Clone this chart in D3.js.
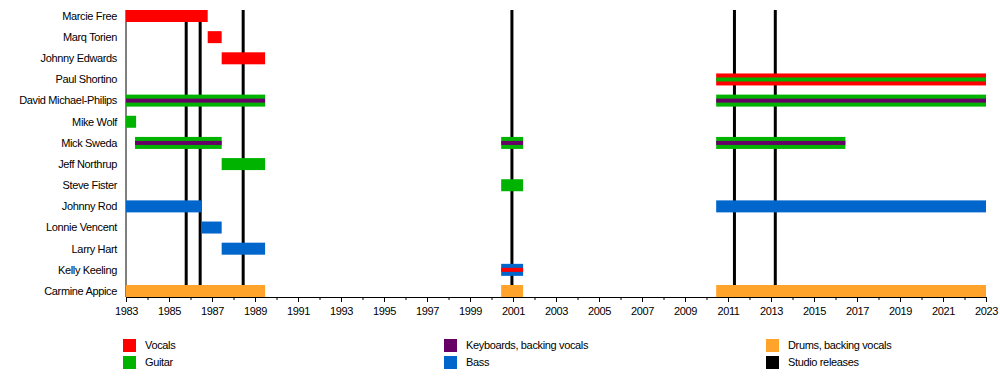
<!DOCTYPE html>
<html>
<head>
<meta charset="utf-8">
<script src="https://cdn.jsdelivr.net/npm/d3@7"></script>
<style>
  body { margin: 0; background: #fff; }
  text { font-family: "Liberation Sans", Arial, sans-serif; font-size: 11px; fill: #000; letter-spacing: -0.35px; }
</style>
</head>
<body>
<div id="chart"></div>
<script>
// band members, top to bottom
var members = ["Marcie Free", "Marq Torien", "Johnny Edwards", "Paul Shortino", "David Michael-Philips",
    "Mike Wolf", "Mick Sweda", "Jeff Northrup", "Steve Fister", "Johnny Rod", "Lonnie Vencent",
    "Larry Hart", "Kelly Keeling", "Carmine Appice"];

var roles = ["Vocals", "Guitar", "Keyboards, backing vocals", "Bass", "Drums, backing vocals", "Studio releases"];

// [member, from, to, main role, second role]
var periods = [
    ["Marcie Free", 1983, 1986.8, "Vocals"],
    ["Marq Torien", 1986.8, 1987.45, "Vocals"],
    ["Johnny Edwards", 1987.45, 1989.47, "Vocals"],
    ["Paul Shortino", 2010.45, 2023, "Vocals", "Guitar"],
    ["David Michael-Philips", 1983, 1989.47, "Guitar", "Keyboards, backing vocals"],
    ["David Michael-Philips", 2010.45, 2023, "Guitar", "Keyboards, backing vocals"],
    ["Mike Wolf", 1983, 1983.47, "Guitar"],
    ["Mick Sweda", 1983.42, 1987.45, "Guitar", "Keyboards, backing vocals"],
    ["Mick Sweda", 2000.45, 2001.47, "Guitar", "Keyboards, backing vocals"],
    ["Mick Sweda", 2010.45, 2016.46, "Guitar", "Keyboards, backing vocals"],
    ["Jeff Northrup", 1987.45, 1989.47, "Guitar"],
    ["Steve Fister", 2000.45, 2001.47, "Guitar"],
    ["Johnny Rod", 1983, 1986.49, "Bass"],
    ["Johnny Rod", 2010.45, 2023, "Bass"],
    ["Lonnie Vencent", 1986.49, 1987.45, "Bass"],
    ["Larry Hart", 1987.45, 1989.47, "Bass"],
    ["Kelly Keeling", 2000.45, 2001.47, "Bass", "Vocals"],
    ["Carmine Appice", 1983, 1989.47, "Drums, backing vocals"],
    ["Carmine Appice", 2000.45, 2001.47, "Drums, backing vocals"],
    ["Carmine Appice", 2010.45, 2023, "Drums, backing vocals"]
];

var releases = [1985.8, 1986.45, 1988.45, 2000.95, 2011.3, 2013.2];

var yearTicks = d3.range(1983, 2024, 1);
var yearLabels = d3.range(1983, 2024, 2);

var roleColor = d3.scaleOrdinal()
    .domain(roles)
    .range(["#ff0000", "#00b300", "#660066", "#0066cc", "#ffa32a", "#000000"]);

var width = 1000, height = 376;
var svg = d3.select("#chart").append("svg")
    .attr("width", width)
    .attr("height", height);

var x = d3.scaleLinear().domain([1983, 2023]).range([126, 986]);
var y = d3.scalePoint().domain(members).range([16, 291]);
var axisY = 297, topY = 10;
var barH = 12, stripeH = 4;

// studio release lines (under the bars)
svg.append("g").selectAll("line")
    .data(releases)
    .enter().append("line")
    .attr("x1", function (d) { return x(d); })
    .attr("x2", function (d) { return x(d); })
    .attr("y1", topY)
    .attr("y2", axisY)
    .attr("stroke", "#000")
    .attr("stroke-width", 3);

// left axis line
svg.append("line")
    .attr("x1", x(1983)).attr("x2", x(1983))
    .attr("y1", topY).attr("y2", axisY)
    .attr("stroke", "#000");

// bars
var bars = svg.append("g").selectAll("g")
    .data(periods)
    .enter().append("g");

bars.append("rect")
    .attr("x", function (d) { return x(d[1]); })
    .attr("width", function (d) { return x(d[2]) - x(d[1]); })
    .attr("y", function (d) { return y(d[0]) - barH / 2; })
    .attr("height", barH)
    .attr("fill", function (d) { return roleColor(d[3]); });

bars.filter(function (d) { return d[4]; })
    .append("rect")
    .attr("x", function (d) { return x(d[1]); })
    .attr("width", function (d) { return x(d[2]) - x(d[1]); })
    .attr("y", function (d) { return y(d[0]) - stripeH / 2; })
    .attr("height", stripeH)
    .attr("fill", function (d) { return roleColor(d[4]); });

// member names
svg.append("g").selectAll("text")
    .data(members)
    .enter().append("text")
    .attr("x", 117)
    .attr("y", function (d) { return y(d); })
    .attr("dy", "0.35em")
    .attr("text-anchor", "end")
    .text(function (d) { return d; });

// x axis
var xAxis = d3.axisBottom(x)
    .tickValues(yearLabels)
    .tickSize(5)
    .tickFormat(d3.format("d"));

var gx = svg.append("g")
    .attr("transform", "translate(0," + axisY + ")")
    .call(xAxis);
gx.select(".domain").attr("d", "M" + x(1983) + ",0.5H" + x(2023));
gx.selectAll("text").attr("font-size", null).attr("font-family", null).attr("dy", "0.9em");

svg.append("g")
    .attr("transform", "translate(0," + axisY + ")")
    .selectAll("line")
    .data(yearTicks.filter(function (d) { return yearLabels.indexOf(d) < 0; }))
    .enter().append("line")
    .attr("x1", function (d) { return x(d) + 0.5; })
    .attr("x2", function (d) { return x(d) + 0.5; })
    .attr("y1", 0)
    .attr("y2", 3)
    .attr("stroke", "#000");

// legend
var legendPos = [[123, 339], [123, 356], [444, 339], [444, 356], [766, 339], [766, 356]];
var legend = svg.append("g").selectAll("g")
    .data(roles)
    .enter().append("g")
    .attr("transform", function (d, i) { return "translate(" + legendPos[i][0] + "," + legendPos[i][1] + ")"; });

legend.append("rect")
    .attr("width", 13)
    .attr("height", 13)
    .attr("fill", function (d) { return roleColor(d); });

legend.append("text")
    .attr("x", 22)
    .attr("y", 6.5)
    .attr("dy", "0.35em")
    .text(function (d) { return d; });
</script>
</body>
</html>
